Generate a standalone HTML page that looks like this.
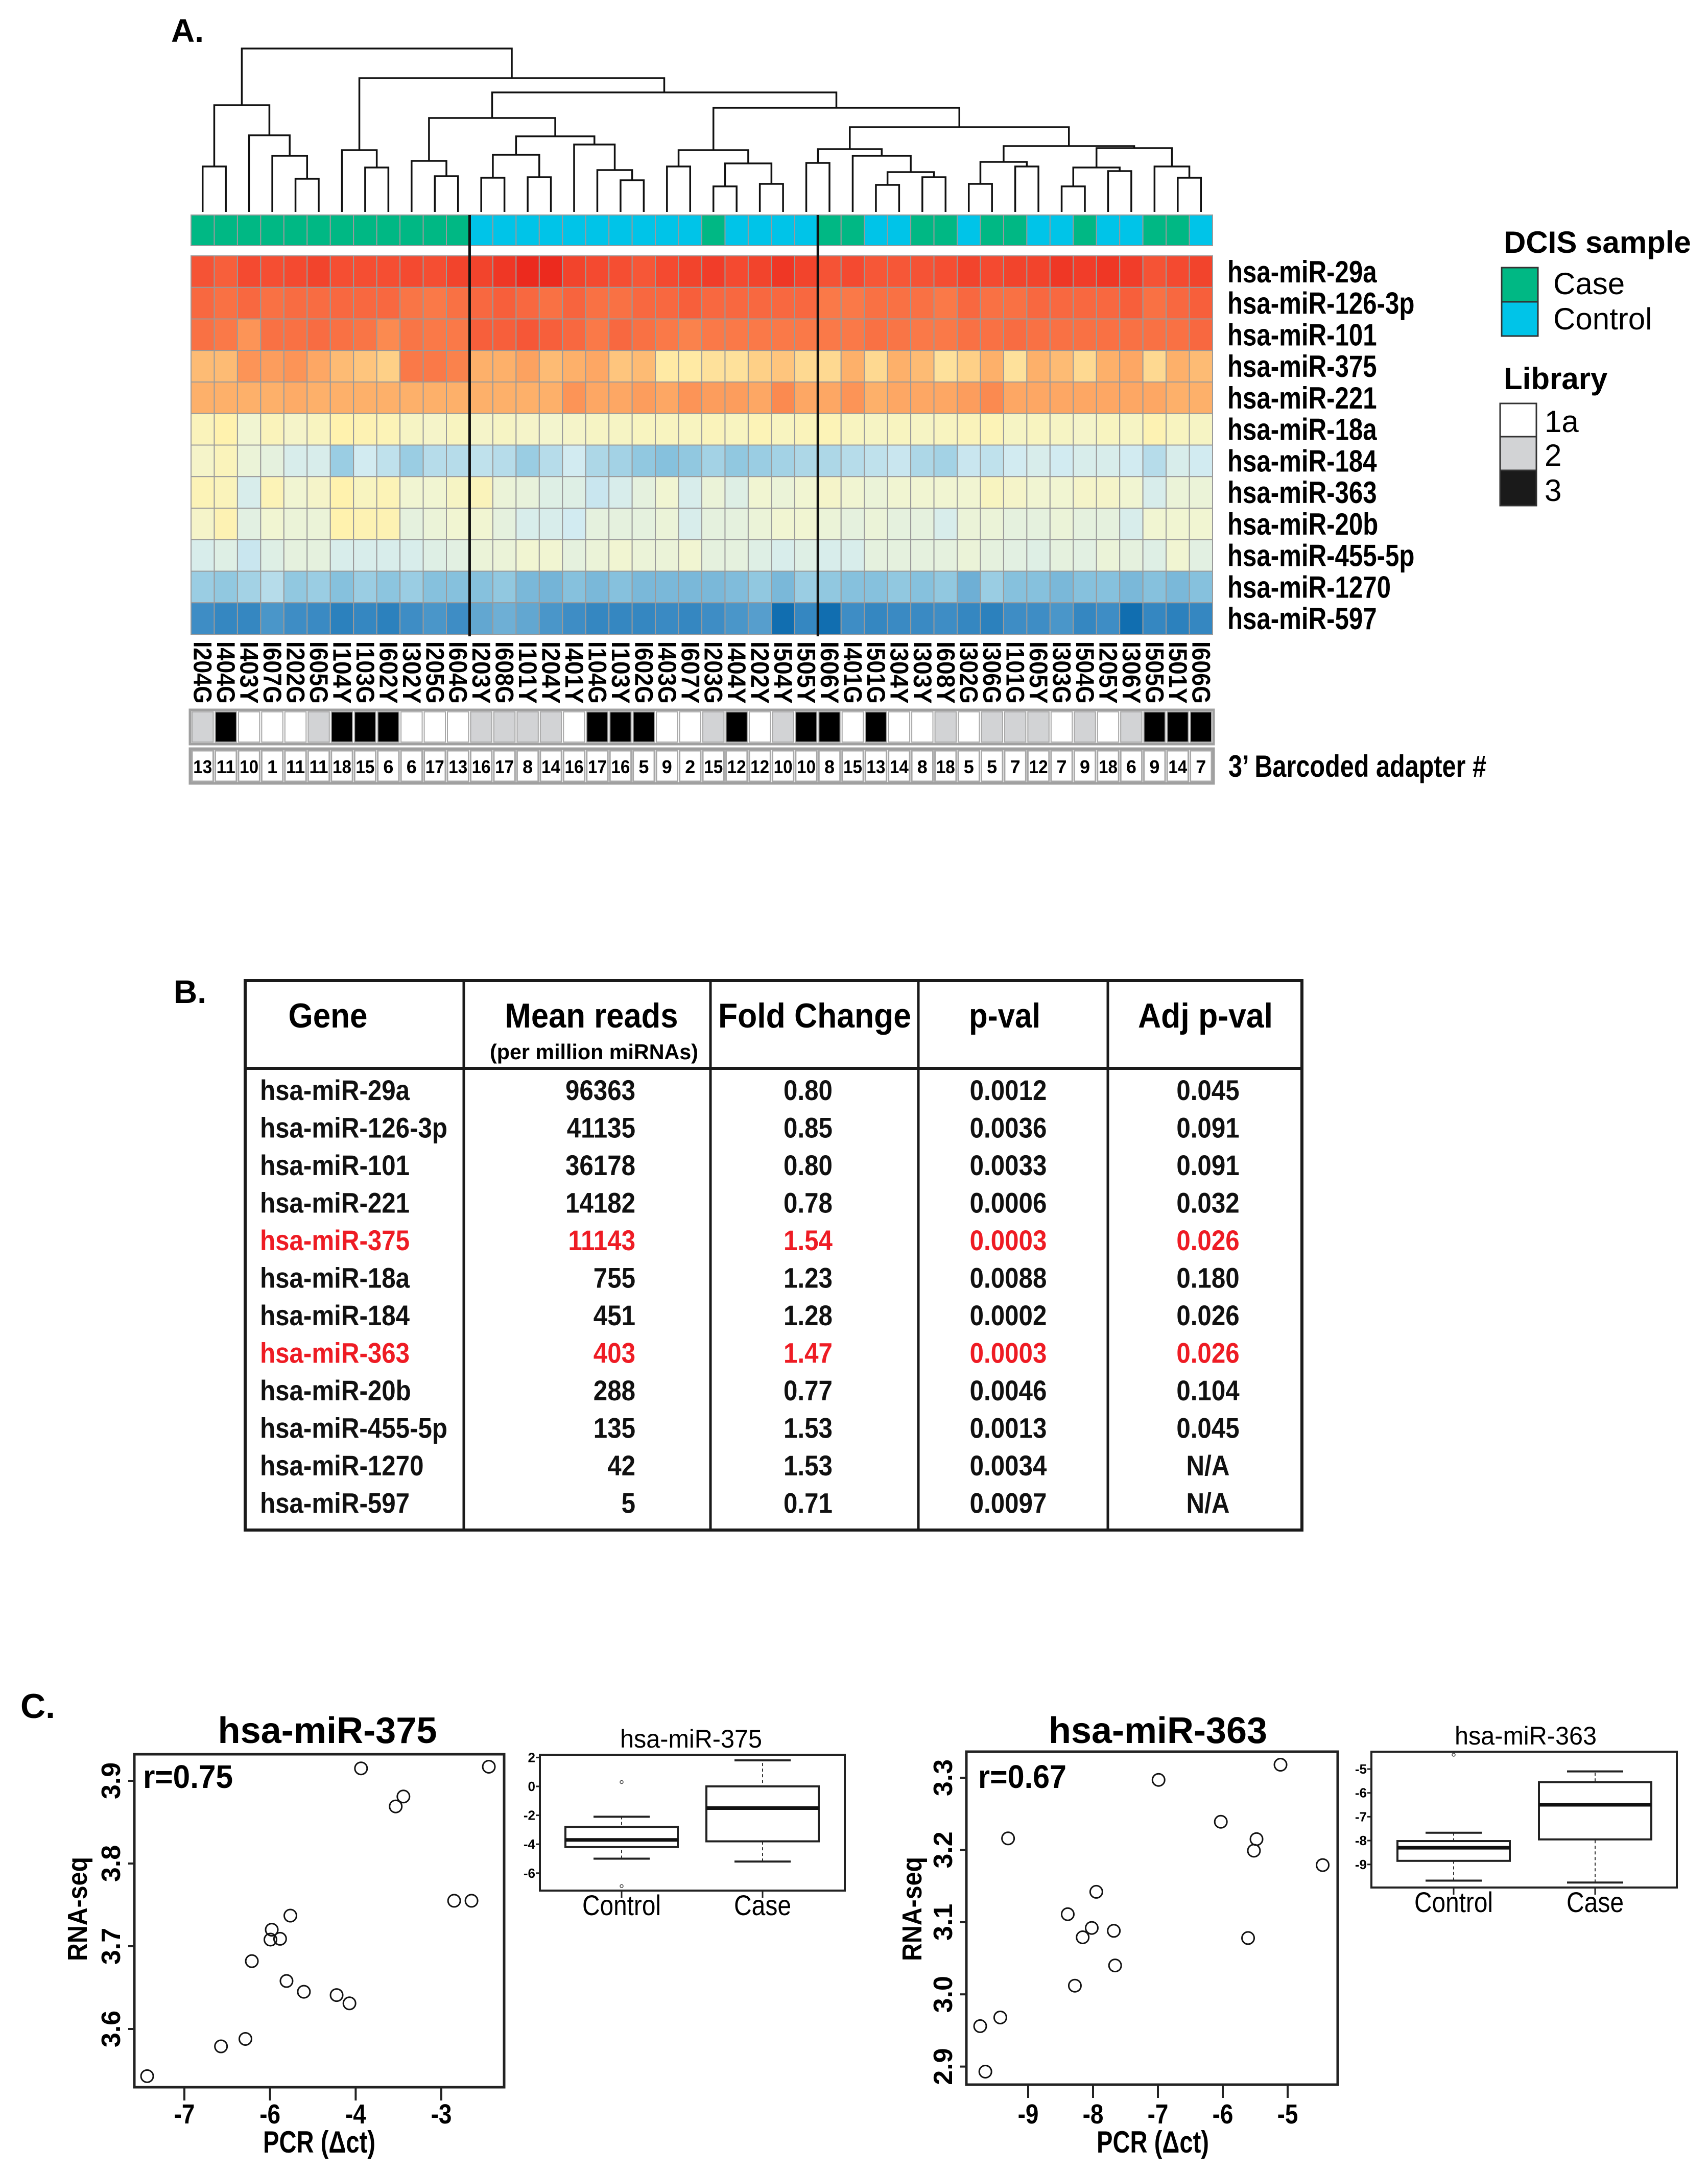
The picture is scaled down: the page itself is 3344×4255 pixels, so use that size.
<!DOCTYPE html>
<html><head><meta charset="utf-8">
<style>
html,body{margin:0;padding:0;background:#fff;}
svg{display:block;font-family:"Liberation Sans",Arial,sans-serif;}
.b{font-weight:bold;}
</style></head>
<body>
<svg id="fig" xmlns="http://www.w3.org/2000/svg" width="3344" height="4255" viewBox="0 0 3344 4255">
<rect x="0" y="0" width="3344" height="4255" fill="#fff"/>
<text x="335" y="82" font-size="64" class="b">A.</text>
<g id="heat"></g>
<!-- legends -->
<g>
<text x="2944" y="495" font-size="60" class="b">DCIS sample</text>
<rect x="2940" y="524" width="71" height="67" fill="#00B884" stroke="#333" stroke-width="3"/>
<rect x="2940" y="591" width="71" height="67" fill="#00C4E8" stroke="#333" stroke-width="3"/>
<text x="3041" y="576" font-size="60">Case</text>
<text x="3041" y="645" font-size="60">Control</text>
</g>
<g>
<text x="2944" y="762" font-size="60" class="b">Library</text>
<rect x="2937" y="790" width="71" height="65" fill="#fff" stroke="#333" stroke-width="3"/>
<rect x="2937" y="855" width="71" height="66" fill="#D2D3D5" stroke="#333" stroke-width="3"/>
<rect x="2937" y="921" width="71" height="69" fill="#1a1a1a" stroke="#333" stroke-width="3"/>
<text x="3024" y="846" font-size="60">1a</text>
<text x="3024" y="912" font-size="60">2</text>
<text x="3024" y="981" font-size="60">3</text>
</g>
<text x="2405" y="1521" font-size="60" class="b" textLength="505" lengthAdjust="spacingAndGlyphs">3’ Barcoded adapter #</text>

<!-- Panel B table -->
<text x="340" y="1964" font-size="64" class="b">B.</text>
<g id="table">
<rect x="480" y="1920" width="2069" height="1076" fill="none" stroke="#1a1a1a" stroke-width="6"/>
<line x1="480" y1="2092" x2="2549" y2="2092" stroke="#1a1a1a" stroke-width="6"/>
<line x1="908" y1="1920" x2="908" y2="2996" stroke="#1a1a1a" stroke-width="5"/>
<line x1="1391" y1="1920" x2="1391" y2="2996" stroke="#1a1a1a" stroke-width="5"/>
<line x1="1798" y1="1920" x2="1798" y2="2996" stroke="#1a1a1a" stroke-width="5"/>
<line x1="2169" y1="1920" x2="2169" y2="2996" stroke="#1a1a1a" stroke-width="5"/>
<text x="642" y="2012" font-size="68" class="b" text-anchor="middle" textLength="155" lengthAdjust="spacingAndGlyphs">Gene</text>
<text x="1158" y="2012" font-size="68" class="b" text-anchor="middle" textLength="339" lengthAdjust="spacingAndGlyphs">Mean reads</text>
<text x="1163" y="2074" font-size="42" class="b" text-anchor="middle" textLength="408" lengthAdjust="spacingAndGlyphs">(per million miRNAs)</text>
<text x="1595" y="2012" font-size="68" class="b" text-anchor="middle" textLength="378" lengthAdjust="spacingAndGlyphs">Fold Change</text>
<text x="1967" y="2012" font-size="68" class="b" text-anchor="middle" textLength="140" lengthAdjust="spacingAndGlyphs">p-val</text>
<text x="2360" y="2012" font-size="68" class="b" text-anchor="middle" textLength="264" lengthAdjust="spacingAndGlyphs">Adj p-val</text>
</g>

<!-- Panel C -->
<text x="40" y="3364" font-size="68" class="b">C.</text>
<g id="cpanel"></g>
</svg>

<script>
// ===== Heatmap data =====
const genes = ["hsa-miR-29a","hsa-miR-126-3p","hsa-miR-101","hsa-miR-375","hsa-miR-221","hsa-miR-18a","hsa-miR-184","hsa-miR-363","hsa-miR-20b","hsa-miR-455-5p","hsa-miR-1270","hsa-miR-597"];
const samples = ["I204G","I404G","I403Y","I607G","I202G","I605G","I104Y","I103G","I602Y","I302Y","I205G","I604G","I203Y","I608G","I101Y","I204Y","I401Y","I104G","I103Y","I602G","I403G","I607Y","I203G","I404Y","I202Y","I504Y","I505Y","I606Y","I401G","I501G","I304Y","I303Y","I608Y","I302G","I306G","I101G","I605Y","I303G","I504G","I205Y","I306Y","I505G","I501Y","I606G"];
const dcisGroup = [1,1,1,1,1,1,1,1,1,1,1,1,0,0,0,0,0,0,0,0,0,0,1,0,0,0,0,1,1,0,0,1,1,0,1,1,0,0,1,0,0,1,1,0];
const library = [1,2,0,0,0,1,2,2,2,0,0,0,1,1,1,1,0,2,2,2,0,0,1,2,0,1,2,2,0,2,0,0,1,0,1,1,1,0,1,0,1,2,2,2];
const barcode = [13,11,10,1,11,11,18,15,6,6,17,13,16,17,8,14,16,17,16,5,9,2,15,12,12,10,10,8,15,13,14,8,18,5,5,7,12,7,9,18,6,9,14,7];
const row29a = [0.93,0.9,0.95,0.94,0.95,0.96,0.94,0.94,0.94,0.95,0.94,0.96,0.96,0.98,1.0,1.0,0.96,0.95,0.94,0.92,0.95,0.96,0.97,0.95,0.96,0.98,0.96,0.93,0.95,0.92,0.92,0.93,0.94,0.96,0.95,0.96,0.96,0.98,0.97,0.98,0.97,0.93,0.95,0.96];
const row126 = [0.88,0.86,0.88,0.86,0.87,0.87,0.88,0.88,0.88,0.85,0.84,0.86,0.88,0.9,0.88,0.86,0.89,0.86,0.86,0.88,0.88,0.9,0.88,0.88,0.88,0.88,0.88,0.84,0.84,0.86,0.86,0.86,0.84,0.88,0.86,0.86,0.88,0.88,0.88,0.88,0.9,0.86,0.88,0.9];
const row101 = [0.86,0.84,0.78,0.86,0.86,0.87,0.86,0.85,0.8,0.85,0.84,0.84,0.9,0.9,0.92,0.9,0.88,0.84,0.88,0.86,0.84,0.82,0.84,0.84,0.84,0.84,0.84,0.84,0.84,0.86,0.85,0.84,0.84,0.86,0.86,0.87,0.86,0.86,0.86,0.86,0.86,0.86,0.86,0.88];
const row375 = [0.7,0.7,0.78,0.76,0.78,0.74,0.7,0.68,0.66,0.84,0.84,0.82,0.72,0.72,0.75,0.7,0.72,0.74,0.68,0.7,0.6,0.6,0.62,0.62,0.66,0.68,0.64,0.64,0.72,0.64,0.72,0.7,0.62,0.66,0.72,0.62,0.72,0.7,0.64,0.72,0.74,0.64,0.72,0.7];
const row221 = [0.72,0.72,0.72,0.72,0.73,0.72,0.72,0.72,0.72,0.72,0.72,0.72,0.72,0.72,0.72,0.72,0.78,0.74,0.74,0.76,0.74,0.78,0.76,0.76,0.74,0.8,0.74,0.74,0.78,0.72,0.74,0.74,0.74,0.76,0.8,0.74,0.74,0.74,0.74,0.74,0.74,0.74,0.72,0.72];
const row18a = [0.55,0.58,0.5,0.55,0.52,0.54,0.58,0.57,0.56,0.53,0.52,0.54,0.52,0.53,0.52,0.51,0.52,0.53,0.53,0.54,0.54,0.54,0.55,0.54,0.56,0.54,0.55,0.56,0.54,0.53,0.54,0.53,0.54,0.55,0.56,0.53,0.54,0.53,0.52,0.54,0.53,0.57,0.54,0.53];
const row184 = [0.52,0.55,0.48,0.46,0.42,0.42,0.28,0.4,0.36,0.28,0.34,0.34,0.36,0.34,0.28,0.34,0.4,0.32,0.3,0.26,0.24,0.26,0.3,0.26,0.28,0.3,0.32,0.32,0.34,0.36,0.38,0.32,0.3,0.38,0.36,0.4,0.42,0.4,0.42,0.42,0.4,0.34,0.42,0.4];
const row363 = [0.56,0.55,0.42,0.56,0.5,0.52,0.58,0.54,0.56,0.5,0.5,0.53,0.55,0.48,0.47,0.44,0.44,0.38,0.42,0.46,0.5,0.42,0.48,0.44,0.5,0.48,0.5,0.52,0.5,0.48,0.5,0.5,0.5,0.5,0.54,0.52,0.5,0.5,0.52,0.52,0.5,0.42,0.48,0.48];
const row20b = [0.52,0.57,0.45,0.5,0.48,0.48,0.58,0.57,0.57,0.46,0.48,0.5,0.5,0.46,0.42,0.42,0.4,0.46,0.46,0.46,0.48,0.42,0.46,0.46,0.48,0.5,0.5,0.48,0.46,0.48,0.46,0.46,0.42,0.48,0.48,0.46,0.46,0.48,0.46,0.46,0.42,0.5,0.5,0.5];
const row455 = [0.42,0.44,0.38,0.44,0.46,0.46,0.42,0.42,0.42,0.42,0.44,0.45,0.48,0.48,0.5,0.5,0.46,0.48,0.5,0.48,0.48,0.5,0.46,0.46,0.44,0.42,0.44,0.42,0.42,0.46,0.46,0.46,0.46,0.48,0.46,0.45,0.44,0.46,0.45,0.48,0.46,0.44,0.5,0.45];
const row1270 = [0.28,0.26,0.3,0.34,0.26,0.28,0.24,0.28,0.25,0.28,0.24,0.24,0.24,0.26,0.22,0.21,0.24,0.22,0.24,0.22,0.22,0.22,0.22,0.23,0.26,0.22,0.28,0.26,0.24,0.24,0.26,0.24,0.26,0.2,0.28,0.24,0.24,0.22,0.24,0.24,0.22,0.24,0.22,0.24];
const row597 = [0.12,0.1,0.1,0.14,0.12,0.11,0.08,0.1,0.08,0.12,0.14,0.12,0.18,0.2,0.18,0.14,0.12,0.1,0.1,0.1,0.11,0.1,0.12,0.14,0.16,0.02,0.1,0.02,0.12,0.1,0.11,0.11,0.12,0.1,0.08,0.12,0.12,0.14,0.1,0.12,0.02,0.1,0.08,0.1];
const heatRows = [row29a,row126,row101,row375,row221,row18a,row184,row363,row20b,row455,row1270,row597];
// dendrogram: [mergeHeightPx, left, right]; leaves are sample indices
const dendro = [95,
  [206,[326,0,1],[265,2,[305,3,[350,4,5]]]],
  [153,
    [294,6,[328,7,8]],
    [181,
      [231,[315,9,[345,10,11]],[267,[303,[348,12,13],[347,14,15]],[283,16,[333,17,[353,18,19]]]]],
      [211,
        [294,[326,20,21],[320,[365,22,23],[360,24,25]]],
        [249,
          [292,[319,26,27],[305,28,[337,[362,29,30],[347,31,32]]]],
          [286,[317,[360,33,34],[326,35,36]],[290,[328,[365,37,38],[335,39,40]],[326,41,[348,42,43]]]]
        ]
      ]
    ]
  ]
];
const splitAfter = [12,27];

// ===== Table data =====
const tblGenes = ["hsa-miR-29a","hsa-miR-126-3p","hsa-miR-101","hsa-miR-221","hsa-miR-375","hsa-miR-18a","hsa-miR-184","hsa-miR-363","hsa-miR-20b","hsa-miR-455-5p","hsa-miR-1270","hsa-miR-597"];
const tblMean = ["96363","41135","36178","14182","11143","755","451","403","288","135","42","5"];
const tblFold = ["0.80","0.85","0.80","0.78","1.54","1.23","1.28","1.47","0.77","1.53","1.53","0.71"];
const tblP = ["0.0012","0.0036","0.0033","0.0006","0.0003","0.0088","0.0002","0.0003","0.0046","0.0013","0.0034","0.0097"];
const tblAdj = ["0.045","0.091","0.091","0.032","0.026","0.180","0.026","0.026","0.104","0.045","N/A","N/A"];
const tblHighlight = [0,0,0,0,1,0,0,1,0,0,0,0];

// ===== Panel C data =====
const pcr375 = [-7.58,-6.43,-6.05,-5.95,-5.64,-5.66,-5.51,-5.35,-5.41,-5.14,-4.63,-4.43,-4.25,-3.71,-3.59,-2.80,-2.53,-2.26];
const seq375 = [3.543,3.579,3.588,3.682,3.720,3.708,3.709,3.737,3.658,3.645,3.641,3.631,3.915,3.869,3.881,3.755,3.755,3.917];
const xTicks375 = [-7,-5.667,-4.333,-3];
const xTickLabels375 = ["-7","-6","-4","-3"];
const yTicks375 = [3.6,3.7,3.8,3.9];
const pcr363 = [-9.74,-9.66,-9.43,-9.31,-8.28,-8.39,-8.16,-8.02,-7.95,-7.68,-7.66,-6.99,-6.03,-5.61,-5.52,-5.48,-5.11,-4.46];
const seq363 = [2.956,2.893,2.968,3.216,3.012,3.111,3.079,3.092,3.142,3.088,3.040,3.297,3.239,3.078,3.199,3.215,3.318,3.179];
const xTicks363 = [-9,-8,-7,-6,-5];
const yTicks363 = [2.9,3.0,3.1,3.2,3.3];
// box stats: [whiskerLow, q1, median, q3, whiskerHigh]
const box375Control = [-5.0,-4.2,-3.7,-2.8,-2.1];
const box375Case = [-5.2,-3.8,-1.5,0.0,1.8];
const box375ControlOut = [0.3,-6.9];
const box375CaseOut = [];
const box375Ticks = [2,0,-2,-4,-6];
const box363Control = [-9.68,-8.85,-8.3,-8.02,-7.67];
const box363Case = [-9.76,-7.95,-6.5,-5.55,-5.1];
const box363ControlOut = [-4.4];
const box363CaseOut = [];
const box363Ticks = [-5,-6,-7,-8,-9];

const NS = "http://www.w3.org/2000/svg";
function mk(tag, attrs, parent, txt){
  const e = document.createElementNS(NS, tag);
  for (const k in attrs) e.setAttribute(k, attrs[k]);
  if (txt !== undefined) e.textContent = txt;
  parent.appendChild(e);
  return e;
}
function hex(c){return [parseInt(c.slice(1,3),16),parseInt(c.slice(3,5),16),parseInt(c.slice(5,7),16)];}
const stops = [[0,'#0868AC'],[0.12,'#3E8DC5'],[0.25,'#8CC5DF'],[0.4,'#D2EBF1'],[0.5,'#F1F5D2'],[0.58,'#FFF2AE'],[0.65,'#FED58C'],[0.72,'#FDB06A'],[0.8,'#FB8A50'],[0.88,'#F86840'],[0.95,'#F44A30'],[1,'#EC2A1E']];
function ramp(v){
  v=Math.max(0,Math.min(1,v));
  for(let i=1;i<stops.length;i++){
    if(v<=stops[i][0]){
      const t=(v-stops[i-1][0])/(stops[i][0]-stops[i-1][0]);
      const a=hex(stops[i-1][1]), b=hex(stops[i][1]);
      return 'rgb('+a.map((x,j)=>Math.round(x+(b[j]-x)*t)).join(',')+')';
    }
  }
  return stops[stops.length-1][1];
}

// ===== Heatmap drawing =====
const heat = document.getElementById('heat');
const hmL=374, hmR=2374, nC=samples.length, cw=(hmR-hmL)/nC, hmTop=501, rh=61.75;
const colX = i => hmL + cw*i;
const colC = i => hmL + cw*(i+0.5);
const rowY = r => hmTop + rh*r;
const leafBottom = 415;

// dendrogram
function dx(n){ return (typeof n==='number') ? colC(n) : (dx(n[1])+dx(n[2]))/2; }
function dy(n){ return (typeof n==='number') ? leafBottom : n[0]; }
function drawNode(n){
  if (typeof n==='number') return;
  const x1=dx(n[1]), x2=dx(n[2]), h=n[0];
  const p = mk('path',{d:`M${x1},${dy(n[1])}V${h}H${x2}V${dy(n[2])}`,fill:'none',stroke:'#111','stroke-width':3.5},heat);
  
  
  drawNode(n[1]); drawNode(n[2]);
}
drawNode(dendro);

// DCIS colour bar
for(let i=0;i<nC;i++){
  const r = mk('rect',{x:colX(i),y:421,width:cw,height:60,fill:dcisGroup[i]?'#00B884':'#00C4E8',stroke:'#9a9a9a','stroke-width':2},heat);
  
  
}
// cells
for(let r=0;r<genes.length;r++){
  for(let i=0;i<nC;i++){
    const c = mk('rect',{x:colX(i),y:rowY(r),width:cw,height:rh,fill:ramp(heatRows[r][i]),stroke:'#9a9a9a','stroke-width':2},heat);
    
    
  }
  const t = mk('text',{x:2403,y:rowY(r)+rh/2+21,'font-size':60,'font-weight':'bold','data-sx':0.82},heat,genes[r]);
  
  
}
// cluster split lines
splitAfter.forEach(k=>{
  const l = mk('line',{x1:colX(k),y1:421,x2:colX(k),y2:rowY(genes.length)+4,stroke:'#111','stroke-width':5},heat);
  
  
});
// sample labels
for(let i=0;i<nC;i++){
  const x = colC(i)-17, y=1256;
  const t = mk('text',{x:x,y:y,'font-size':50,'font-weight':'bold',transform:`rotate(90 ${x} ${y})`,textLength:122,lengthAdjust:'spacingAndGlyphs'},heat,samples[i]);
  
  
}
// library bar
const libFill=['#ffffff','#D2D3D5','#000000'];
mk('rect',{x:hmL-2,y:1390,width:hmR-hmL+4,height:67,fill:'#fff',stroke:'#a0a0a0','stroke-width':5},heat);
for(let i=0;i<nC;i++){
  const r = mk('rect',{x:colX(i)+2,y:1394,width:cw-4,height:59,fill:libFill[library[i]],stroke:'#a8a8a8','stroke-width':2},heat);
  
  
}
// barcode boxes
mk('rect',{x:hmL-2,y:1466,width:hmR-hmL+4,height:68,fill:'#fff',stroke:'#a0a0a0','stroke-width':5},heat);
for(let i=0;i<nC;i++){
  const r = mk('rect',{x:colX(i)+2,y:1470,width:cw-4,height:60,fill:'#fff',stroke:'#a8a8a8','stroke-width':3},heat);
  
  
  const s = String(barcode[i]);
  const at = {x:colC(i),y:1514,'font-size':36,'font-weight':'bold','text-anchor':'middle'};
  if(s.length>1){at.textLength=37;at.lengthAdjust='spacingAndGlyphs';}
  const t = mk('text',at,heat,s);
  
  
}

// ===== Table rows =====
const table = document.getElementById('table');
for(let i=0;i<tblGenes.length;i++){
  const y = 2154 + 73.5*i;
  const col = tblHighlight[i] ? '#EE1C24' : '#111';
  const cells = [
    [509,'start',tblGenes[i],'table-gene'],
    [1244,'end',tblMean[i],'table-mean-reads'],
    [1582,'middle',tblFold[i],'table-fold-change'],
    [1974,'middle',tblP[i],'table-p-val'],
    [2365,'middle',tblAdj[i],'table-adj-p-val']];
  cells.forEach(c=>{
    const t = mk('text',{x:c[0],y:y,'font-size':56,'font-weight':'bold','text-anchor':c[1],fill:col,'data-sx':0.88},table,c[2]);
    
    
  });
}

// ===== Panel C =====
const cp = document.getElementById('cpanel');
function scatter(o){
  const sx = v => o.x0px + (v - o.x0)*o.xppu;
  const sy = v => o.y0px - (v - o.y0)*o.yppu;
  const fr = mk('rect',{x:o.L,y:o.T,width:o.R-o.L,height:o.B-o.T,fill:'none',stroke:'#222','stroke-width':5},cp);
  
  
  o.xt.forEach((v,k)=>{
    const l = mk('line',{x1:sx(v),y1:o.B,x2:sx(v),y2:o.B+26,stroke:'#222','stroke-width':4},cp);
    
    
    const t = mk('text',{x:sx(v),y:4158,'font-size':54,'font-weight':'bold','text-anchor':'middle','data-sx':0.85},cp,o.xtl[k]);
    
    
  });
  o.yt.forEach(v=>{
    const y=sy(v);
    const l = mk('line',{x1:o.L,y1:y,x2:o.L-12,y2:y,stroke:'#222','stroke-width':4},cp);
    
    
    const tx=o.L-28;
    const t = mk('text',{x:tx,y:y,'font-size':52,'font-weight':'bold','text-anchor':'middle',transform:`rotate(-90 ${tx} ${y})`},cp,v.toFixed(1));
    
    
  });
  o.xs.forEach((v,k)=>{
    const c = mk('circle',{cx:sx(v),cy:sy(o.ys[k]),r:12,fill:'none',stroke:'#111','stroke-width':3},cp);
    
    
  });
  const tt = mk('text',{x:o.titleX,y:3413,'font-size':72,'font-weight':'bold','text-anchor':'middle',textLength:o.titleW,lengthAdjust:'spacingAndGlyphs'},cp,o.title);
  
  
  const rr = mk('text',{x:o.rX,y:3501,'font-size':64,'font-weight':'bold',textLength:o.rW,lengthAdjust:'spacingAndGlyphs'},cp,o.r);
  
  
  const yl = mk('text',{x:o.ylX,y:3738,'font-size':54,'font-weight':'bold','text-anchor':'middle',transform:`rotate(-90 ${o.ylX} 3738)`,textLength:204,lengthAdjust:'spacingAndGlyphs'},cp,'RNA-seq');
  
  
  const xl = mk('text',{x:o.xlX,y:4215,'font-size':60,'font-weight':'bold','text-anchor':'middle',textLength:220,lengthAdjust:'spacingAndGlyphs'},cp,'PCR (Δct)');
  
  
}
function boxplot(o){
  const sy = v => o.y0px - (v - o.y0)*o.yppu;
  const fr = mk('rect',{x:o.L,y:o.T,width:o.R-o.L,height:o.B-o.T,fill:'none',stroke:'#222','stroke-width':4},cp);
  
  
  o.ticks.forEach(v=>{
    const y=sy(v);
    const l = mk('line',{x1:o.L,y1:y,x2:o.L-8,y2:y,stroke:'#222','stroke-width':3},cp);
    
    
    const t = mk('text',{x:o.L-9,y:y+9,'font-size':26,'font-weight':'bold','text-anchor':'end'},cp,String(v));
    
    
  });
  const groups=[[o.ctrl,o.ctrlOut,o.cx[0],'Control'],[o.cas,o.casOut,o.cx[1],'Case']];
  groups.forEach(g=>{
    const s=g[0], cx=g[2], hw=110;
    const wl = mk('line',{x1:cx,y1:sy(s[0]),x2:cx,y2:sy(s[4]),stroke:'#333','stroke-width':2,'stroke-dasharray':'6,5'},cp);
    
    
    [s[0],s[4]].forEach(v=>{
      const c = mk('line',{x1:cx-hw/2,y1:sy(v),x2:cx+hw/2,y2:sy(v),stroke:'#222','stroke-width':4},cp);
      
      
    });
    const b = mk('rect',{x:cx-hw,y:sy(s[3]),width:2*hw,height:sy(s[1])-sy(s[3]),fill:'#fff',stroke:'#222','stroke-width':4},cp);
    
    
    const m = mk('line',{x1:cx-hw,y1:sy(s[2]),x2:cx+hw,y2:sy(s[2]),stroke:'#111','stroke-width':7},cp);
    
    
    g[1].forEach(v=>{
      const p = mk('circle',{cx:cx,cy:sy(v),r:3,fill:'none',stroke:'#444','stroke-width':1.5},cp);
      
      
    });
    const tk = mk('line',{x1:cx,y1:o.B,x2:cx,y2:o.B+14,stroke:'#222','stroke-width':3},cp);
    
    
    const t = mk('text',{x:cx,y:o.B+48,'font-size':56,'text-anchor':'middle',textLength:g[3]==='Control'?154:112,lengthAdjust:'spacingAndGlyphs'},cp,g[3]);
    
    
  });
  const tt = mk('text',{x:o.titleX,y:o.T-14,'font-size':50,'text-anchor':'middle',textLength:278,lengthAdjust:'spacingAndGlyphs'},cp,o.title);
  
  
}

scatter({id:'scatter-375',L:263,R:987,T:3435,B:4087,x0:-7,x0px:361,xppu:125.75,y0:3.9,y0px:3487,yppu:1620,
  xs:pcr375,ys:seq375,xt:xTicks375,xtl:xTickLabels375,yt:yTicks375,
  title:'hsa-miR-375',titleX:641,titleW:429,r:'r=0.75',rX:280,rW:176,ylX:170,xlX:625});
scatter({id:'scatter-363',L:1892,R:2619,T:3430,B:4082,x0:-9,x0px:2013,xppu:127,y0:3.3,y0px:3481,yppu:1414,
  xs:pcr363,ys:seq363,xt:xTicks363,xtl:xTicks363.map(String),yt:yTicks363,
  title:'hsa-miR-363',titleX:2267,titleW:428,r:'r=0.67',rX:1915,rW:173,ylX:1804,xlX:2257});
boxplot({id:'box-375',L:1057,R:1654,T:3436,B:3702,y0:0,y0px:3498,yppu:28.3,ticks:box375Ticks,
  ctrl:box375Control,ctrlOut:box375ControlOut,cas:box375Case,casOut:box375CaseOut,cx:[1217,1493],title:'hsa-miR-375',titleX:1353});
boxplot({id:'box-363',L:2685,R:3283,T:3430,B:3696,y0:-5,y0px:3464,yppu:46.7,ticks:box363Ticks,
  ctrl:box363Control,ctrlOut:box363ControlOut,cas:box363Case,casOut:box363CaseOut,cx:[2846,3123],title:'hsa-miR-363',titleX:2987});

// condense narrow-font text
document.querySelectorAll('[data-sx]').forEach(t=>{
  const w = t.getComputedTextLength();
  if (w>0){ t.setAttribute('textLength', (w*parseFloat(t.getAttribute('data-sx'))).toFixed(1)); t.setAttribute('lengthAdjust','spacingAndGlyphs'); }
});
</script>
</body></html>
